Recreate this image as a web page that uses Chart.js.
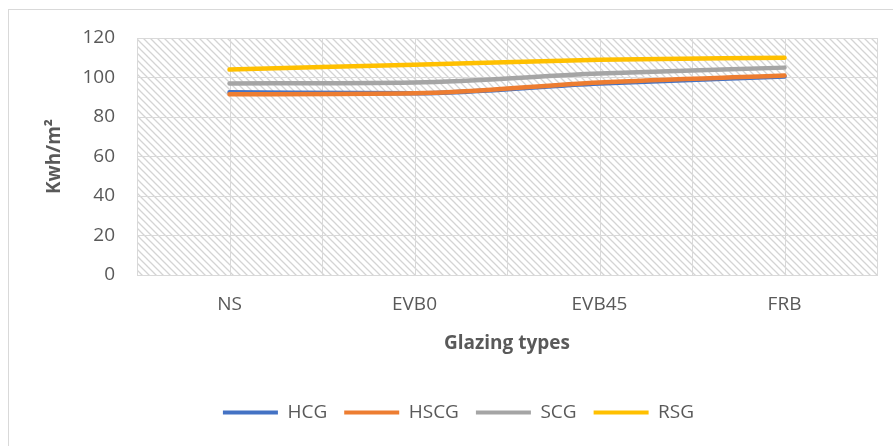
<!DOCTYPE html>
<html>
<head>
<meta charset="utf-8">
<script src="https://cdn.jsdelivr.net/npm/chart.js@4"></script>
<style>
  html, body { margin: 0; padding: 0; background: #fff; overflow: hidden; }
  #wrap { position: relative; width: 893px; height: 446px; }
  #frame { position: absolute; left: 8px; top: 9px; width: 900px; height: 450px; border: 1px solid #d9d9d9; box-sizing: border-box; pointer-events: none; }
</style>
</head>
<body>
<div id="wrap">
  <canvas id="energyChart" width="893" height="446"></canvas>
  <div id="frame"></div>
</div>
<script>
// Data
const glazingTypes = ['NS', 'EVB0', 'EVB45', 'FRB'];
const hcgValues = [92.5, 92, 97, 100.5];
const hscgValues = [91.5, 92, 97.5, 101];
const scgValues = [97, 97.5, 102, 105];
const rsgValues = [104, 106.5, 109, 110];

const gridColor = '#d9d9d9';
const textColor = '#595959';
const fontFamily = "'Open Sans', 'Noto Sans', sans-serif";

// hatched background for the plot area
function makeHatch() {
    const c = document.createElement('canvas');
    c.width = 7;
    c.height = 7;
    const g = c.getContext('2d');
    g.strokeStyle = '#d4d4d4';
    g.lineWidth = 1.3;
    g.beginPath();
    g.moveTo(-1, -1); g.lineTo(8, 8);
    g.moveTo(-8, -1); g.lineTo(1, 8);
    g.moveTo(6, -1); g.lineTo(15, 8);
    g.stroke();
    return c;
}

const plotBackground = {
    id: 'plotBackground',
    afterLayout(chart) {
        // the original frame is wider than the picture, so its legend sits a bit right of centre
        chart.legend.left += 10;
        chart.legend.right += 10;
    },
    beforeDraw(chart) {
        const { ctx, chartArea: a, scales } = chart;
        ctx.save();
        ctx.fillStyle = ctx.createPattern(makeHatch(), 'repeat');
        ctx.fillRect(a.left, a.top, a.right - a.left, a.bottom - a.top);
        // extra vertical lines through the category centres
        ctx.strokeStyle = gridColor;
        ctx.lineWidth = 1;
        glazingTypes.forEach((t, i) => {
            const x = Math.round(scales.x.getPixelForValue(i)) + 0.5;
            ctx.beginPath();
            ctx.moveTo(x, a.top);
            ctx.lineTo(x, a.bottom);
            ctx.stroke();
        });
        ctx.restore();
    }
};

const ctxEnergy = document.getElementById('energyChart').getContext('2d');
const energyChart = new Chart(ctxEnergy, {
    type: 'line',
    data: {
        labels: glazingTypes,
        datasets: [
            { label: 'HCG', data: hcgValues, borderColor: '#4472C4', backgroundColor: '#4472C4', order: 4 },
            { label: 'HSCG', data: hscgValues, borderColor: '#ED7D31', backgroundColor: '#ED7D31', order: 3 },
            { label: 'SCG', data: scgValues, borderColor: '#A5A5A5', backgroundColor: '#A5A5A5', order: 2 },
            { label: 'RSG', data: rsgValues, borderColor: '#FFC000', backgroundColor: '#FFC000', order: 1 }
        ]
    },
    options: {
        responsive: false,
        animation: false,
        devicePixelRatio: 1,
        elements: {
            line: { borderWidth: 4.5, cubicInterpolationMode: 'monotone', borderCapStyle: 'round' },
            point: { radius: 0 }
        },
        layout: { padding: { left: 20, right: 16, top: 38, bottom: 14 } },
        scales: {
            x: {
                offset: true,
                afterFit(scale) { scale.height = 111; },
                grid: { color: gridColor, offset: true, drawTicks: false },
                border: { color: gridColor },
                ticks: { color: textColor, font: { family: fontFamily, size: 19 }, padding: 18 },
                title: {
                    display: true,
                    text: 'Glazing types',
                    color: textColor,
                    font: { family: fontFamily, size: 19, weight: 'bold' },
                    padding: { top: 6, bottom: 31 }
                }
            },
            y: {
                min: 0,
                max: 120,
                afterFit(scale) { scale.width = 117; },
                ticks: { stepSize: 20, color: textColor, font: { family: fontFamily, size: 19 }, padding: 22 },
                grid: { color: gridColor, drawTicks: false },
                border: { display: false },
                title: {
                    display: true,
                    text: 'Kwh/m²',
                    color: textColor,
                    font: { family: fontFamily, size: 19, weight: 'bold' },
                    padding: { top: 23, bottom: 0 }
                }
            }
        },
        plugins: {
            tooltip: { enabled: false },
            legend: {
                position: 'bottom',
                labels: {
                    boxWidth: 55,
                    boxHeight: 4,
                    padding: 17,
                    color: textColor,
                    font: { family: fontFamily, size: 19 },
                    generateLabels(chart) {
                        return chart.data.datasets.map((ds, i) => ({
                            text: ds.label,
                            fillStyle: ds.borderColor,
                            strokeStyle: ds.borderColor,
                            lineWidth: 0,
                            fontColor: textColor,
                            datasetIndex: i
                        }));
                    }
                }
            }
        }
    },
    plugins: [plotBackground]
});
</script>
</body>
</html>
